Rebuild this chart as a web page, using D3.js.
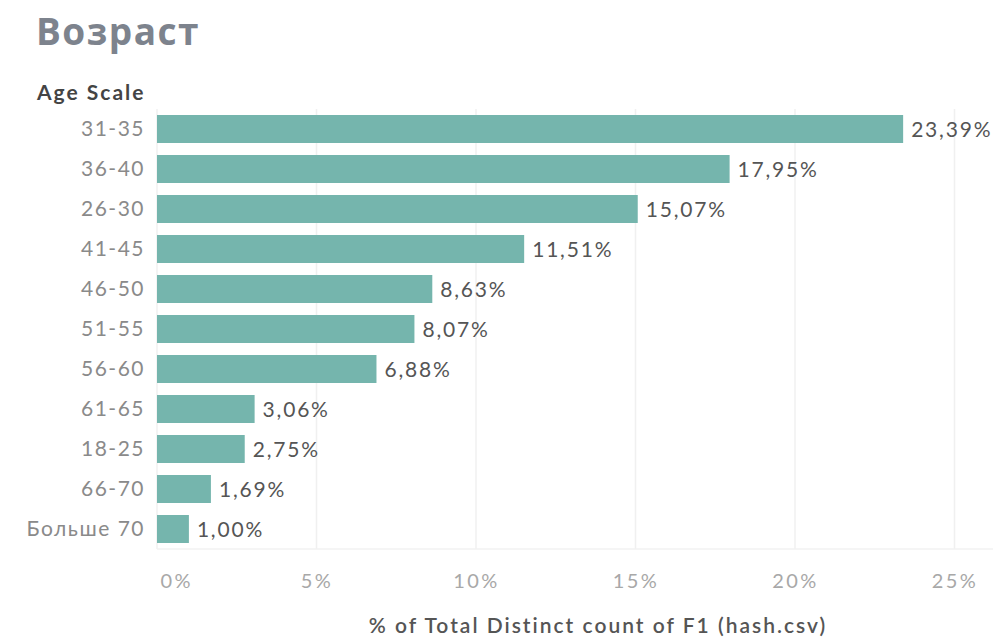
<!DOCTYPE html>
<html>
<head>
<meta charset="utf-8">
<script src="https://cdn.jsdelivr.net/npm/d3@7"></script>
<style>
  body { margin: 0; background: #fff; }
  svg { display: block; }
</style>
</head>
<body>
<svg id="chart" width="993" height="642"></svg>
<script>
const ageGroups = ['31-35', '36-40', '26-30', '41-45', '46-50', '51-55', '56-60', '61-65', '18-25', '66-70', 'Больше 70']
const shares = [23.39, 17.95, 15.07, 11.51, 8.63, 8.07, 6.88, 3.06, 2.75, 1.69, 1.00]
const tickValues = [0, 5, 10, 15, 20, 25]

const title = 'Возраст'
const rowHeader = 'Age Scale'
const axisTitle = '% of Total Distinct count of F1 (hash.csv)'

const fmt = v => d3.format('.2f')(v).replace('.', ',') + '%'

const svg = d3.select('#chart')
const font = 'Lato, "Open Sans", sans-serif'

const x = d3.scaleLinear()
  .domain([0, 25])
  .range([157, 954.5])

const y = d3.scaleBand()
  .domain(ageGroups)
  .range([109, 549])
  .paddingInner(0.3)
  .paddingOuter(0.15)

// gridlines
svg.append('g')
  .selectAll('line')
  .data(tickValues)
  .join('line')
    .attr('x1', d => x(d))
    .attr('x2', d => x(d))
    .attr('y1', 109)
    .attr('y2', 549)
    .attr('stroke', '#f0f0f0')
    .attr('stroke-width', 1.5)

svg.append('line')
  .attr('x1', x(0))
  .attr('x2', 993)
  .attr('y1', 549)
  .attr('y2', 549)
  .attr('stroke', '#f2f2f2')
  .attr('stroke-width', 1.5)

// bars
svg.append('g')
  .selectAll('rect')
  .data(shares)
  .join('rect')
    .attr('x', x(0))
    .attr('y', (d, i) => y(ageGroups[i]))
    .attr('width', d => x(d) - x(0))
    .attr('height', y.bandwidth())
    .attr('fill', '#75b5ad')

// value labels
svg.append('g')
  .selectAll('text')
  .data(shares)
  .join('text')
    .attr('x', d => x(d) + 8)
    .attr('y', (d, i) => y(ageGroups[i]) + y.bandwidth() / 2)
    .attr('dy', '0.36em')
    .attr('font-family', font)
    .attr('font-size', 21)
    .attr('letter-spacing', 1.8)
    .attr('fill', '#555')
    .text(fmt)

// category axis
const yAxis = d3.axisLeft(y).tickSize(0).tickPadding(12)
svg.append('g')
  .attr('transform', `translate(${x(0)},0)`)
  .call(yAxis)
  .call(g => g.select('.domain').remove())
  .call(g => g.selectAll('text')
    .attr('font-family', font)
    .attr('font-size', 21)
    .attr('letter-spacing', 1.5)
    .attr('fill', '#8a8a8a'))

// value axis
const xAxis = d3.axisBottom(x)
  .tickValues(tickValues)
  .tickSize(0)
  .tickPadding(0)
  .tickFormat(d => d + '%')
svg.append('g')
  .attr('transform', 'translate(0,588)')
  .call(xAxis)
  .call(g => g.select('.domain').remove())
  .call(g => g.selectAll('text')
    .attr('dy', 0)
    .attr('font-family', font)
    .attr('font-size', 20)
    .attr('letter-spacing', 2.5)
    .attr('fill', '#a8a8a8'))
  .call(g => g.selectAll('.tick').filter(d => d === 0).select('text')
    .attr('text-anchor', 'start')
    .attr('x', 3))

svg.append('text')
  .attr('x', 598)
  .attr('y', 633)
  .attr('text-anchor', 'middle')
  .attr('font-family', font)
  .attr('font-size', 21)
  .attr('font-weight', 600)
  .attr('letter-spacing', 2)
  .attr('fill', '#555')
  .text(axisTitle)

svg.append('text')
  .attr('x', 37)
  .attr('y', 100)
  .attr('font-family', font)
  .attr('font-size', 21)
  .attr('font-weight', 700)
  .attr('letter-spacing', 2)
  .attr('fill', '#444')
  .text(rowHeader)

svg.append('text')
  .attr('x', 36)
  .attr('y', 45)
  .attr('font-family', '"Open Sans", "Noto Sans", sans-serif')
  .attr('font-size', 37)
  .attr('font-weight', 700)
  .attr('letter-spacing', 1.5)
  .attr('fill', '#7d838d')
  .text(title)
</script>
</body>
</html>
